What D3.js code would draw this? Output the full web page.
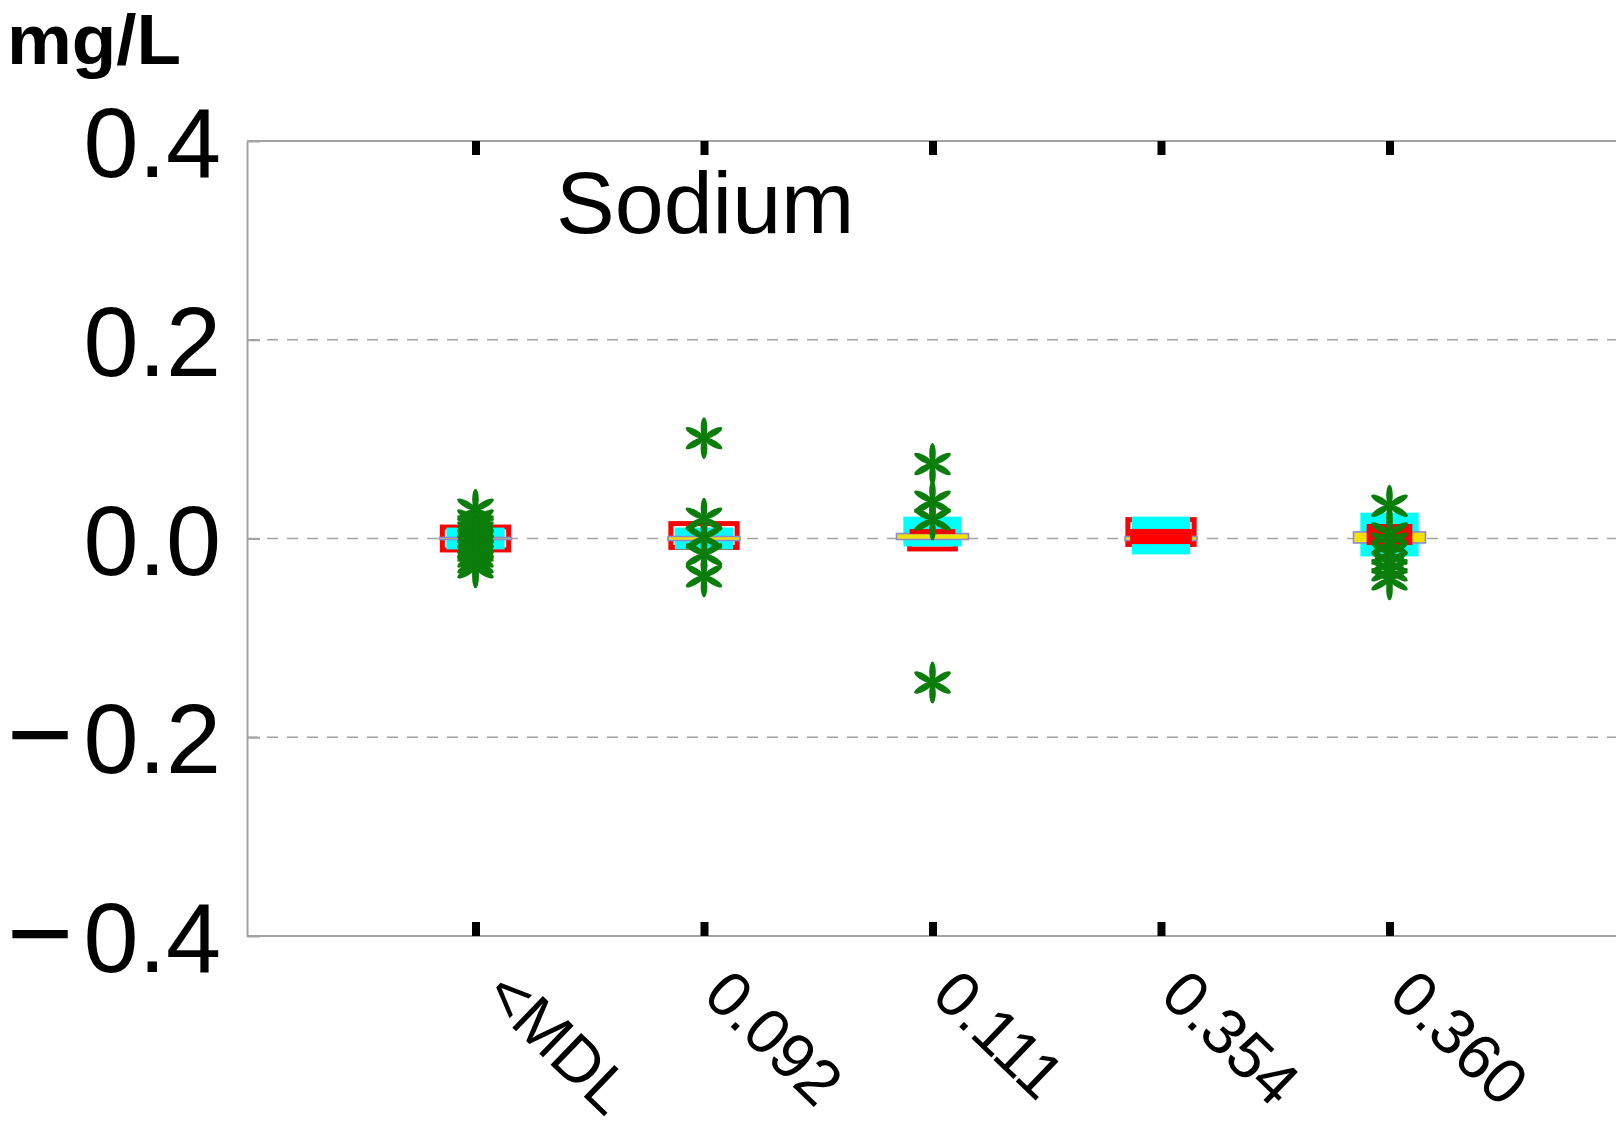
<!DOCTYPE html>
<html>
<head>
<meta charset="utf-8">
<script src="https://cdn.jsdelivr.net/npm/d3@7"></script>
<style>
  html, body { margin: 0; padding: 0; background: #fff; }
  svg { display: block; }
  text { font-family: "Liberation Sans", Arial, Helvetica, sans-serif; fill: #000; }
</style>
</head>
<body>
<svg id="chart" width="1616" height="1138"></svg>
<script>
// ---- data -------------------------------------------------------------
const analyte = "Sodium";
const unitLabel = "mg/L";
const categories = ["<MDL", "0.092", "0.111", "0.354", "0.360"];
const yTickValues = [-0.4, -0.2, 0.0, 0.2, 0.4];
const yTickLabels = ["\u22120.4", "\u22120.2", "0.0", "0.2", "0.4"];

// red outlined boxes (drawn underneath the cyan boxes); width in category-axis units
const redLow   = [-0.0115, -0.009, -0.0105, -0.006, -0.006];
const redHigh  = [ 0.0115,  0.015,  0.000,   0.019,  0.012];
const redWidth = [0.29, 0.29, 0.20, 0.29, 0.20];

// cyan boxes (low / high edge per category)
const cyanLow  = [-0.011, -0.011, -0.008, -0.016, -0.018];
const cyanHigh = [ 0.011,  0.011,  0.022,  0.022,  0.026];

// thin yellow boxes
const yellowLow  = [-0.001, -0.002, -0.001, -0.002, -0.0045];
const yellowHigh = [ 0.001,  0.002,  0.005,  0.002,  0.0066];

// solid red bars drawn over the cyan boxes (null where absent)
const barLow   = [null, null, 0.0045, -0.0056, -0.0066];
const barHigh  = [null, null, 0.0095,  0.0096,  0.0146];
const barWidth = [0, 0, 0.20, 0.27, 0.20];

// individual results (green asterisks)
const pointsMDL = [0.029, 0.018, 0.012, 0.006, 0.002, -0.003, -0.008, -0.012, -0.018, -0.024, -0.029];
const points092 = [0.101, 0.020, 0.001, -0.016, -0.038];
const points111 = [0.075, 0.037, 0.019, -0.145];
const points354 = [];
const points360 = [0.033, 0.005, -0.005, -0.015, -0.024, -0.032, -0.041];
const pointSets = [pointsMDL, points092, points111, points354, points360];

// ---- layout -----------------------------------------------------------
const W = 1616, H = 1138;
const plotLeft = 247, plotTop = 141, plotBottom = 936;
const step = 228.5;
const cyanWidth = 0.255;   // category units
const yellowWidth = 0.315; // category units

const svg = d3.select("#chart");

const x = d3.scaleLinear().domain([0, 6]).range([plotLeft, plotLeft + 6 * step]);
const y = d3.scaleLinear().domain([-0.4, 0.4]).range([plotBottom, plotTop]);

const grey = "#a3a3a3";

// dashed reference lines
svg.append("g")
  .selectAll("line")
  .data(yTickValues.filter(v => Math.abs(v) < 0.39))
  .join("line")
  .attr("x1", plotLeft).attr("x2", W)
  .attr("y1", d => y(d)).attr("y2", d => y(d))
  .attr("stroke", grey).attr("stroke-width", 1.6)
  .attr("stroke-dasharray", "11,9");

// frame: top and bottom edges
svg.append("line").attr("x1", plotLeft).attr("x2", W).attr("y1", y(0.4)).attr("y2", y(0.4))
  .attr("stroke", grey).attr("stroke-width", 2);
svg.append("line").attr("x1", plotLeft).attr("x2", W).attr("y1", y(-0.4)).attr("y2", y(-0.4))
  .attr("stroke", grey).attr("stroke-width", 2);

// y axis
const yAxis = d3.axisLeft(y)
  .tickValues(yTickValues)
  .tickSize(-13)
  .tickSizeOuter(0)
  .tickPadding(26)
  .tickFormat((d, i) => yTickLabels[i]);

const gy = svg.append("g").attr("transform", `translate(${plotLeft},0)`).call(yAxis);
gy.select(".domain").attr("stroke", grey).attr("stroke-width", 2);
gy.selectAll(".tick line").attr("stroke", grey).attr("stroke-width", 2);
gy.selectAll(".tick text")
  .attr("font-size", 99)
  .attr("dy", "0.36em")
  .each(function (d, i) {
    const t = d3.select(this);
    const label = yTickLabels[i];
    t.text(null);
    if (label.startsWith("\u2212")) {
      t.append("tspan").attr("font-size", 114).text("\u2212");
      t.append("tspan").attr("dx", 10).text(label.slice(1));
    } else {
      t.append("tspan").text(label);
    }
  });

// category ticks (black, inward) at top and bottom
const catPos = categories.map((c, i) => i + 1);
const xBottom = d3.axisBottom(x).tickValues(catPos).tickSize(-14).tickSizeOuter(0).tickFormat("");
const xTop = d3.axisTop(x).tickValues(catPos).tickSize(-14).tickSizeOuter(0).tickFormat("");
[svg.append("g").attr("transform", `translate(0,${plotBottom})`).call(xBottom),
 svg.append("g").attr("transform", `translate(0,${plotTop})`).call(xTop)].forEach(g => {
  g.select(".domain").remove();
  g.selectAll(".tick line").attr("stroke", "#000").attr("stroke-width", 8);
});

// rotated category labels
svg.append("g")
  .selectAll("text")
  .data(categories)
  .join("text")
  .attr("font-size", 64)
  .attr("text-anchor", "start")
  .attr("transform", (d, i) => `translate(${x(i + 1) + (i === 0 ? 6 : -3)},${plotBottom + 62}) rotate(44)`)
  .text(d => d);

// ---- boxes --------------------------------------------------------------
const idx = d3.range(categories.length);
const halfW = (w) => (x(w) - x(0)) / 2;

svg.append("g").selectAll("rect")
  .data(idx)
  .join("rect")
  .attr("x", i => x(i + 1) - halfW(redWidth[i]))
  .attr("width", i => halfW(redWidth[i]) * 2)
  .attr("y", i => y(redHigh[i]))
  .attr("height", i => y(redLow[i]) - y(redHigh[i]))
  .attr("fill", "none")
  .attr("stroke", "#ff0000")
  .attr("stroke-width", 5);

svg.append("g").selectAll("rect")
  .data(idx)
  .join("rect")
  .attr("x", i => x(i + 1) - halfW(cyanWidth))
  .attr("width", halfW(cyanWidth) * 2)
  .attr("y", i => y(cyanHigh[i]))
  .attr("height", i => y(cyanLow[i]) - y(cyanHigh[i]))
  .attr("fill", "#00ffff");

svg.append("g").selectAll("rect")
  .data(idx)
  .join("rect")
  .attr("x", i => x(i + 1) - halfW(yellowWidth))
  .attr("width", halfW(yellowWidth) * 2)
  .attr("y", i => y(yellowHigh[i]))
  .attr("height", i => y(yellowLow[i]) - y(yellowHigh[i]))
  .attr("fill", "#f2e200")
  .attr("stroke", "#8a8ad0")
  .attr("stroke-width", 1.6);

svg.append("g").selectAll("rect")
  .data(idx.filter(i => barLow[i] !== null))
  .join("rect")
  .attr("x", i => x(i + 1) - halfW(barWidth[i]))
  .attr("width", i => halfW(barWidth[i]) * 2)
  .attr("y", i => y(barHigh[i]))
  .attr("height", i => y(barLow[i]) - y(barHigh[i]))
  .attr("fill", "#ff0000");

// ---- asterisks ------------------------------------------------------------
const starR = 21;
const armAngles = [0, 60, 120, 180, 240, 300];
const pts = [];
pointSets.forEach((set, i) => set.forEach(v => pts.push({ c: i + 1, v })));

const stars = svg.append("g").selectAll("g")
  .data(pts)
  .join("g")
  .attr("transform", d => `translate(${x(d.c)},${y(d.v)})`);

stars.selectAll("ellipse")
  .data(armAngles)
  .join("ellipse")
  .attr("cx", 0)
  .attr("cy", -starR / 2)
  .attr("rx", 3.3)
  .attr("ry", starR / 2)
  .attr("transform", a => `rotate(${a})`)
  .attr("fill", "#0a7d0a");

// ---- titles -----------------------------------------------------------------
svg.append("text")
  .attr("x", 7).attr("y", 64)
  .attr("font-size", 70)
  .attr("font-weight", "bold")
  .attr("textLength", 174)
  .attr("lengthAdjust", "spacingAndGlyphs")
  .text(unitLabel);

svg.append("text")
  .attr("x", 556).attr("y", 233)
  .attr("font-size", 88)
  .text(analyte);
</script>
</body>
</html>
